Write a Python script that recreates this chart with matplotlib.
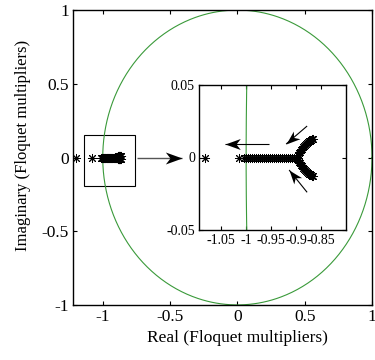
import numpy as np
import matplotlib
matplotlib.use("Agg")
import matplotlib.pyplot as plt
from matplotlib.patches import Rectangle
from matplotlib.path import Path

plt.rcParams['font.family'] = ['Liberation Serif', 'DejaVu Serif']

# ---- data ----
# isolated multipliers on the real axis
iso_re = [-1.20, -1.082, -1.014]
iso_im = [0.0, 0.0, 0.0]
# dense cluster on the real axis
axis_re = [-1.004, -1.000, -0.996, -0.992, -0.988, -0.984, -0.980, -0.976, -0.972,
           -0.968, -0.964, -0.960, -0.956, -0.952, -0.948, -0.944, -0.940, -0.936,
           -0.932, -0.928, -0.924, -0.920, -0.916, -0.912, -0.908, -0.904, -0.900,
           -0.897]
axis_im = [0.0] * len(axis_re)
# complex-conjugate branch
branch_re = [-0.896, -0.894, -0.892, -0.890, -0.888, -0.886, -0.884, -0.882, -0.880,
             -0.878, -0.876, -0.874, -0.872, -0.870, -0.868, -0.866]
branch_im = [0.0015, 0.0028, 0.0040, 0.0050, 0.0060, 0.0069, 0.0077, 0.0085, 0.0092,
             0.0099, 0.0106, 0.0112, 0.0117, 0.0122, 0.0126, 0.0130]

main_xticks = [-1, -0.5, 0, 0.5, 1]
main_xlabels = ['-1', '-0.5', '0', '0.5', '1']
main_yticks = [-1, -0.5, 0, 0.5, 1]
main_ylabels = ['-1', '-0.5', '0', '0.5', '1']
in_xticks = [-1.05, -1.0, -0.95, -0.9, -0.85]
in_xlabels = ['-1.05', '-1', '-0.95', '-0.9', '-0.85']
in_yticks = [-0.05, 0, 0.05]
in_ylabels = ['-0.05', '0', '0.05']

theta = np.linspace(0, 2 * np.pi, 721)
circ_x = np.cos(theta)
circ_y = np.sin(theta)

green = '#3a9a3a'
fs_main = 12.5
fs_in = 10

fig = plt.figure(figsize=(3.75, 3.6), dpi=100)
ax = fig.add_axes([0.195, 0.153, 0.797, 0.819])

def style(a, fs):
    a.tick_params(direction='in', top=True, right=True, length=3, width=0.8,
                  labelsize=fs, pad=3)
    for s in a.spines.values():
        s.set_linewidth(1.0)

ms = 6.5
def draw_points(a):
    all_re = iso_re + axis_re + branch_re + branch_re
    all_im = iso_im + axis_im + branch_im + [-v for v in branch_im]
    a.plot(all_re, all_im, linestyle='none', marker=(8, 2, 0), markersize=ms,
           color='black', markeredgewidth=0.7)

def arrow(a, x0, y0, x1, y1, shaft_color, lw, head_ms):
    a.plot([x0, x1], [y0, y1], color=shaft_color, lw=lw, solid_capstyle='butt')
    p0 = a.transData.transform((x0, y0))
    p1 = a.transData.transform((x1, y1))
    ang = np.arctan2(p1[1] - p0[1], p1[0] - p0[0])
    base = np.array([(0, 0), (-1.0, 0.36), (-0.72, 0.0), (-1.0, -0.36), (0, 0)])
    c, s = np.cos(ang), np.sin(ang)
    rot = base @ np.array([[c, s], [-s, c]])
    path = Path(rot, [Path.MOVETO, Path.LINETO, Path.LINETO, Path.LINETO, Path.CLOSEPOLY])
    a.plot([x1], [y1], marker=path, markersize=head_ms, color='black',
           markeredgewidth=0, linestyle='none')

ax.plot(circ_x, circ_y, color=green, lw=0.8)
draw_points(ax)
ax.set_xlim(-1.22, 1)
ax.set_ylim(-1, 1)
ax.set_xticks(main_xticks)
ax.set_xticklabels(main_xlabels)
ax.set_yticks(main_yticks)
ax.set_yticklabels(main_ylabels)
style(ax, fs_main)
ax.set_xlabel('Real (Floquet multipliers)', fontsize=12.5)
ax.set_ylabel('Imaginary (Floquet multipliers)', fontsize=12)
ax.xaxis.set_label_coords(0.55, -0.085)
ax.yaxis.set_label_coords(-0.14, 0.54)

ax.add_patch(Rectangle((-1.14, -0.19), 0.38, 0.345, fill=False, ec='black', lw=0.8))
arrow(ax, -0.745, 0.0, -0.41, 0.0, '#555555', 1.0, 24)

# inset
ins = fig.add_axes([0.531, 0.361, 0.392, 0.403])
ins.plot(circ_x, circ_y, color=green, lw=0.8)
draw_points(ins)
ins.set_xlim(-1.094, -0.8)
ins.set_ylim(-0.05, 0.05)
ins.set_xticks(in_xticks)
ins.set_xticklabels(in_xlabels)
ins.set_yticks(in_yticks)
ins.set_yticklabels(in_ylabels)
style(ins, fs_in)

arrow(ins, -0.954, 0.0093, -1.042, 0.0093, 'black', 0.8, 22)
arrow(ins, -0.878, 0.0217, -0.92, 0.0093, 'black', 0.8, 20)
arrow(ins, -0.878, -0.024, -0.914, -0.0086, 'black', 0.8, 20)

fig.savefig('out.png', dpi=100)
